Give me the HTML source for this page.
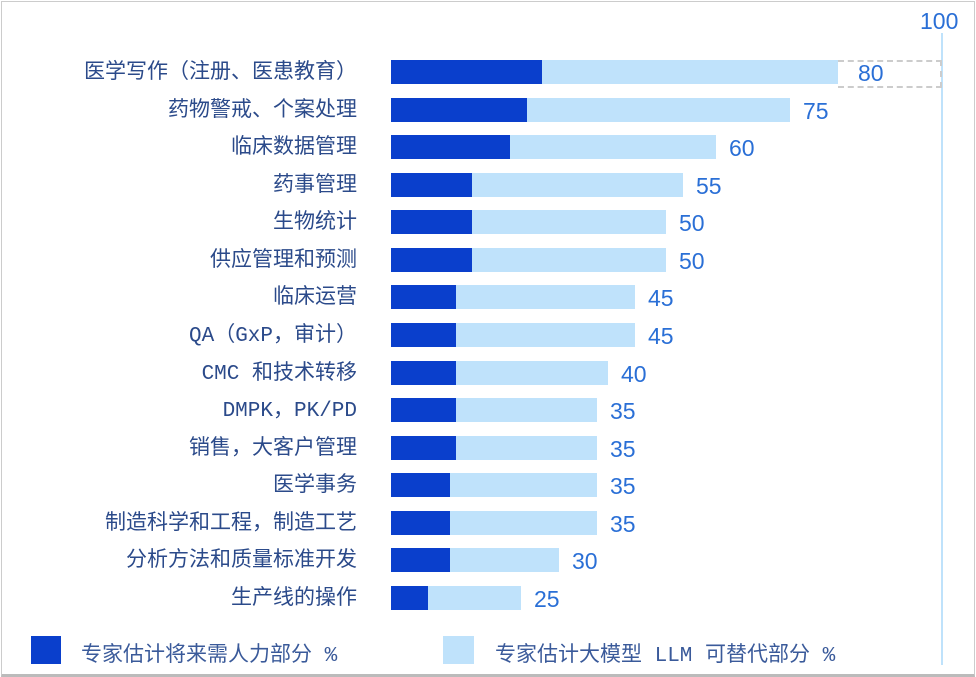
<!DOCTYPE html>
<html><head><meta charset="utf-8"><style>
body{margin:0;background:#fff;}
#c{position:relative;width:976px;height:677px;overflow:hidden;font-family:"Liberation Sans","Noto Sans CJK SC",sans-serif;}
.frame{position:absolute;left:1px;top:1px;width:972px;height:672px;border:1px solid #ccc;border-bottom:3px solid #bbb;}
.lab{position:absolute;right:619px;font-size:21px;color:#2b4a8a;white-space:nowrap;line-height:26px;font-family:"Liberation Mono","Noto Sans CJK SC",monospace;}
.d{position:absolute;left:391px;height:24px;background:#0a3fcc;}
.l{position:absolute;height:24px;background:#bfe2fb;}
.n{position:absolute;font-size:23px;color:#2a6fd6;line-height:24px;}
.lg{position:absolute;top:638px;font-size:21px;color:#3a5a9a;white-space:nowrap;font-family:"Liberation Mono","Noto Sans CJK SC",monospace;}
</style></head><body><div id="c">
<div class="frame"></div>
<div style="position:absolute;left:941px;top:33px;width:2px;height:632px;background:#bfe2fb"></div>
<div class="n" style="left:920px;top:9px;font-size:23px">100</div>
<div style="position:absolute;left:838px;top:60px;width:102px;height:24px;border:2px dashed #ccc;border-left:none"></div>
<div id="rows"></div>
<div style="position:absolute;left:31px;top:636px;width:30px;height:28px;background:#0a3fcc"></div>
<div class="lg" style="left:81px">专家估计将来需人力部分 %</div>
<div style="position:absolute;left:443px;top:636px;width:31px;height:28px;background:#bfe2fb"></div>
<div class="lg" style="left:495px">专家估计大模型 LLM 可替代部分 %</div>
</div>
<script>
var R=[["医学写作（注册、医患教育）",542,838,80],["药物警戒、个案处理",527,790,75],["临床数据管理",510,716,60],["药事管理",472,683,55],["生物统计",472,666,50],["供应管理和预测",472,666,50],["临床运营",456,635,45],["QA（GxP，审计）",456,635,45],["CMC 和技术转移",456,608,40],["DMPK，PK/PD",456,597,35],["销售，大客户管理",456,597,35],["医学事务",450,597,35],["制造科学和工程，制造工艺",450,597,35],["分析方法和质量标准开发",450,559,30],["生产线的操作",428,521,25]];
var h="";R.forEach(function(r,i){var t=Math.round(60+i*37.57);
h+='<div class="lab" style="top:'+(t+1)+'px">'+r[0]+'</div><div class="d" style="top:'+t+'px;width:'+(r[1]-391)+'px"></div><div class="l" style="top:'+t+'px;left:'+r[1]+'px;width:'+(r[2]-r[1])+'px"></div><div class="n" style="top:'+(t+1)+'px;left:'+(r[2]+(i==0?20:13))+'px">'+r[3]+'</div>';});
document.getElementById("rows").innerHTML=h;
</script>
</body></html>
